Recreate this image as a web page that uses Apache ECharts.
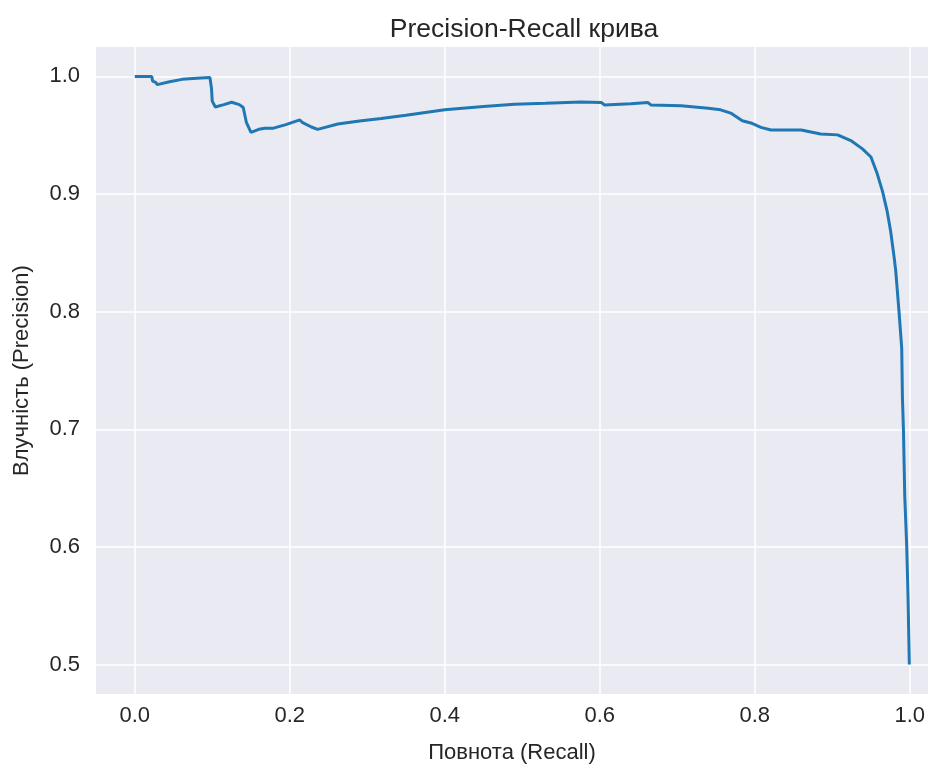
<!DOCTYPE html>
<html>
<head>
<meta charset="utf-8">
<script src="https://cdn.jsdelivr.net/npm/echarts@6/dist/echarts.min.js"></script>
<style>
  html, body { margin: 0; padding: 0; background: #ffffff; }
  #chart { width: 928px; height: 769px; }
</style>
</head>
<body>
<div id="chart"></div>
<script>
// Precision-recall curve samples
const recall = [
  0.000, 0.022, 0.023, 0.027, 0.029, 0.045, 0.061, 0.080, 0.097, 0.099,
  0.100, 0.104, 0.115, 0.125, 0.135, 0.140, 0.144, 0.150, 0.160, 0.168,
  0.179, 0.195, 0.213, 0.216, 0.228, 0.236, 0.262, 0.290, 0.318, 0.350,
  0.400, 0.450, 0.490, 0.530, 0.576, 0.602, 0.606, 0.640, 0.662, 0.666,
  0.705, 0.740, 0.756, 0.769, 0.784, 0.795, 0.808, 0.821, 0.840, 0.860,
  0.885, 0.907, 0.924, 0.939, 0.950, 0.958, 0.965, 0.971, 0.9755, 0.980,
  0.982, 0.9862, 0.9897, 0.9906, 0.9919, 0.9936, 0.9961, 0.9978, 0.9995
];
const precision = [
  1.000, 1.000, 0.996, 0.995, 0.993, 0.9955, 0.9975, 0.9985, 0.999, 0.990,
  0.979, 0.974, 0.976, 0.978, 0.976, 0.9736, 0.961, 0.9525, 0.955, 0.956,
  0.956, 0.959, 0.963, 0.961, 0.957, 0.955, 0.9595, 0.962, 0.9643, 0.967,
  0.9716, 0.9745, 0.9764, 0.9772, 0.9783, 0.9778, 0.9758, 0.9768, 0.9778, 0.9758,
  0.975, 0.973, 0.9716, 0.9688, 0.9623, 0.9604, 0.9567, 0.9545, 0.9545, 0.9545,
  0.951, 0.9503, 0.9455, 0.9384, 0.9315, 0.9174, 0.902, 0.885, 0.868, 0.8457,
  0.8345, 0.800, 0.769, 0.727, 0.6998, 0.6433, 0.6012, 0.559, 0.500
];
const xTicks = [0.0, 0.2, 0.4, 0.6, 0.8, 1.0];
const yTicks = [0.5, 0.6, 0.7, 0.8, 0.9, 1.0];

const chart = echarts.init(document.getElementById('chart'), null, { renderer: 'canvas' });
const font = 'Liberation Sans, Arial, sans-serif';
const textColor = '#262626';

chart.setOption({
  animation: false,
  backgroundColor: '#ffffff',
  title: {
    text: 'Precision-Recall крива',
    left: 519,
    top: 11,
    textAlign: 'center',
    textStyle: { fontFamily: font, fontSize: 26.5, fontWeight: 'normal', color: textColor }
  },
  grid: {
    left: 96, top: 47, right: 0, height: 653,
    show: true, backgroundColor: '#EAEAF2', borderWidth: 0
  },
  xAxis: {
    type: 'value',
    min: -0.05, max: 1.0235,
    name: 'Повнота (Recall)',
    nameLocation: 'middle',
    nameGap: 48,
    nameTextStyle: { fontFamily: font, fontSize: 22, color: textColor },
    axisLine: { show: false },
    axisTick: { show: false, customValues: xTicks },
    axisLabel: {
      customValues: xTicks, margin: 11,
      formatter: v => v.toFixed(1),
      fontFamily: font, fontSize: 22, color: textColor
    },
    splitLine: { show: true, lineStyle: { color: '#ffffff', width: 1.5 } }
  },
  yAxis: {
    type: 'value',
    min: 0.475, max: 1.025,
    name: 'Влучність (Precision)',
    nameLocation: 'middle',
    nameGap: 63,
    nameTextStyle: { fontFamily: font, fontSize: 22, color: textColor },
    axisLine: { show: false },
    axisTick: { show: false, customValues: yTicks },
    axisLabel: {
      customValues: yTicks, margin: 16,
      formatter: v => v.toFixed(1),
      fontFamily: font, fontSize: 22, color: textColor
    },
    splitLine: { show: true, lineStyle: { color: '#ffffff', width: 1.5 } }
  },
  series: [{
    type: 'line',
    data: recall.map((r, i) => [r, precision[i]]),
    showSymbol: false,
    smooth: false,
    lineStyle: { color: '#1f77b4', width: 3 },
    clip: true
  }]
});
</script>
</body>
</html>
